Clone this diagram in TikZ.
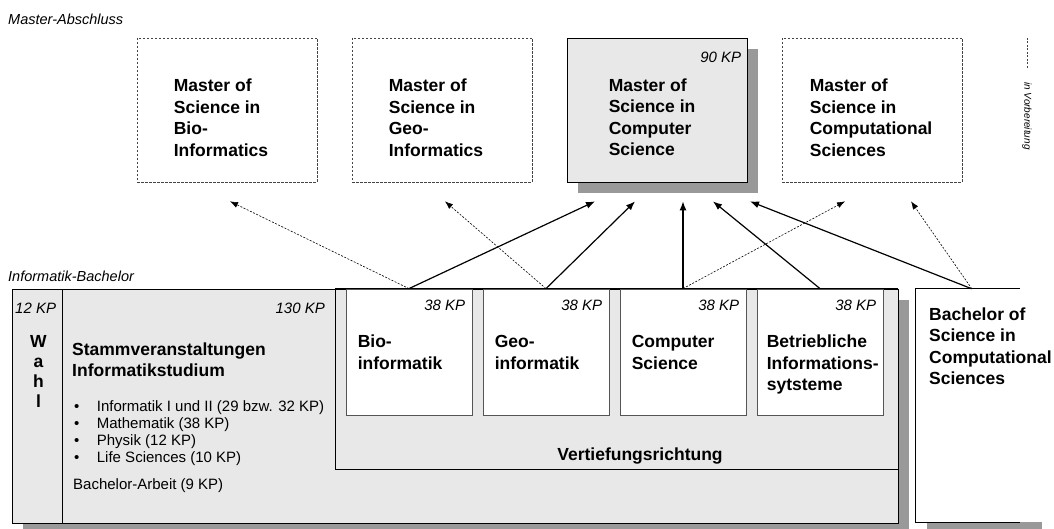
\documentclass[tikz,border=0pt]{standalone}
\usepackage{fontspec}
\setmainfont{Liberation Sans}
\usetikzlibrary{shapes.geometric, arrows.meta, shadows, positioning}

\definecolor{boxgray}{HTML}{E8E8E8}
\definecolor{shadowgray}{HTML}{999999}
\definecolor{dashgray}{HTML}{444444}
\definecolor{linegray}{HTML}{555555}

\newcommand{\titlefont}{\fontsize{17.5}{21.5}\selectfont\bfseries}
\newcommand{\wahlfont}{\fontsize{17.5}{19.8}\selectfont\bfseries}
\newcommand{\kpfont}{\fontsize{15}{17}\selectfont\itshape}
\newcommand{\listfont}{\fontsize{15}{17}\selectfont}
\newcommand{\headfont}{\fontsize{14.5}{17}\selectfont\itshape}
\newcommand{\legendfont}{\fontsize{10}{12}\selectfont\itshape}

\tikzstyle{master} = [
    rectangle,
    minimum width=180pt,
    minimum height=144pt,
    inner sep=0pt,
    fill=white,
    draw=dashgray,
    line width=0.7pt,
    dash pattern=on 2.5pt off 1.5pt
]
\tikzstyle{mastercs} = [
    rectangle,
    minimum width=180pt,
    minimum height=144pt,
    inner sep=0pt,
    fill=boxgray,
    draw=black,
    line width=0.8pt,
    drop shadow={shadow xshift=11pt, shadow yshift=-11pt, fill=shadowgray, opacity=1}
]
\tikzstyle{area} = [
    rectangle,
    inner sep=0pt,
    fill=boxgray,
    draw=black,
    line width=0.8pt
]
\tikzstyle{vbox} = [
    rectangle,
    minimum width=126pt,
    minimum height=126pt,
    inner sep=0pt,
    fill=white,
    draw=linegray,
    line width=0.8pt
]
\tikzstyle{mtitle} = [font=\titlefont, align=left, anchor=north west, inner sep=0pt]
\tikzstyle{kp} = [font=\kpfont, inner sep=0pt]
\tikzstyle{arrow} = [line width=1.2pt, -{Latex[length=9pt, width=7pt]}]
\tikzstyle{dasharrow} = [line width=0.6pt, dash pattern=on 2pt off 1.5pt, -{Latex[length=8pt, width=6pt]}]

\begin{document}
\begin{tikzpicture}[x=1pt, y=-1pt, node distance=215pt]

\useasboundingbox (0,0) rectangle (1054,529);

% Master
\node (mhead) [font=\headfont, anchor=base west, inner sep=0pt] at (8,25) {Master-Abschluss};

\node (mbio) [master] at (227,110) {};
\node (mgeo) [master, right of=mbio] {};
\node (mcs) [mastercs, right of=mgeo] {};
\node (mcomp) [master, right of=mcs] {};

\node (mbiotext) [mtitle] at ([xshift=37pt,yshift=-41pt]mbio.north west)
{Master of\\
Science in\\
Bio-\\
Informatics};
\node (mgeotext) [mtitle] at ([xshift=37pt,yshift=-41pt]mgeo.north west)
{Master of\\
Science in\\
Geo-\\
Informatics};
\node (mcstext) [mtitle] at ([xshift=42pt,yshift=-41pt]mcs.north west)
{Master of\\
Science in\\
Computer\\
Science};
\node (mcomptext) [mtitle] at ([xshift=28pt,yshift=-41pt]mcomp.north west)
{Master of\\
Science in\\
Computational\\
Sciences};
\node (mcskp) [kp, anchor=base east] at ([xshift=-6pt,yshift=-25pt]mcs.north east) {90 KP};

% Legende
\coordinate (legtop) at (1027,38);
\coordinate (legbot) at (1027,68);
\draw [dashgray, line width=0.6pt, dash pattern=on 2pt off 1.5pt] (legtop) -- (legbot);
\node (legtext) [font=\legendfont, rotate=-90, anchor=west, inner sep=0pt] at (1027,82) {in Vorbereitung};

% Bachelor
\node (bhead) [font=\headfont, anchor=base west, inner sep=0pt] at (8,281) {Informatik-Bachelor};

\node (bach) [area, minimum width=886pt, minimum height=234pt,
    drop shadow={shadow xshift=11pt, shadow yshift=-11pt, fill=shadowgray, opacity=1}] at (455,406) {};
\node (wahl) [area, minimum width=50pt, minimum height=234pt] at (37,406) {};
\node (vert) [area, minimum width=563pt, minimum height=180pt] at (616.5,379) {};

\node (wahltext) [font=\wahlfont, align=center, anchor=north, inner sep=0pt] at (38.5,335.5)
{W\\a\\h\\l};
\node (wahlkp) [kp, anchor=base west] at (15,313) {12 KP};

\node (stammkp) [kp, anchor=base east] at (325,313) {130 KP};
\node (stamm) [mtitle] at (72,342.4)
{Stammveranstaltungen\\
Informatikstudium};
\node (stammlist) [font=\listfont, align=left, anchor=north west, inner sep=0pt] at (74,400)
{\makebox[22.7pt][l]{\textbullet}Informatik I und II (29 bzw. 32 KP)\\
\makebox[22.7pt][l]{\textbullet}Mathematik (38 KP)\\
\makebox[22.7pt][l]{\textbullet}Physik (12 KP)\\
\makebox[22.7pt][l]{\textbullet}Life Sciences (10 KP)};
\node (arbeit) [font=\listfont, anchor=north west, inner sep=0pt] at (73,478) {Bachelor-Arbeit (9 KP)};

% Vertiefungsrichtung
\node (vbio) [vbox] at (409,352) {};
\node (vgeo) [vbox, right of=vbio, node distance=137pt] {};
\node (vcs) [vbox, right of=vgeo, node distance=137pt] {};
\node (vbis) [vbox, right of=vcs, node distance=137pt] {};
\draw [line width=0.8pt] (vert.north west) -- (vert.north east);

\node (vbiotext) [mtitle] at ([xshift=12pt,yshift=-46.5pt]vbio.north west)
{Bio-\\
informatik};
\node (vgeotext) [mtitle] at ([xshift=12pt,yshift=-46.5pt]vgeo.north west)
{Geo-\\
informatik};
\node (vcstext) [mtitle] at ([xshift=12pt,yshift=-46.5pt]vcs.north west)
{Computer\\
Science};
\node (vbistext) [mtitle] at ([xshift=10pt,yshift=-46.5pt]vbis.north west)
{Betriebliche\\
Informations-\\
sytsteme};

\node (vbiokp) [kp, anchor=base east] at ([xshift=-7pt,yshift=-22pt]vbio.north east) {38 KP};
\node (vgeokp) [kp, anchor=base east] at ([xshift=-7pt,yshift=-22pt]vgeo.north east) {38 KP};
\node (vcskp) [kp, anchor=base east] at ([xshift=-7pt,yshift=-22pt]vcs.north east) {38 KP};
\node (vbiskp) [kp, anchor=base east] at ([xshift=-7pt,yshift=-22pt]vbis.north east) {38 KP};

\node (verttext) [font=\titlefont, anchor=base, inner sep=0pt] at (640,460) {Vertiefungsrichtung};

% BSc Computational Sciences
\fill [shadowgray] (927,522) rectangle (1042,535);
\node (bsc) [rectangle, fill=white, inner sep=0pt, minimum width=104pt, minimum height=233pt] at (968,405.5) {};
\draw [line width=0.8pt] (bsc.north east) -- (bsc.north west) -- (bsc.south west) -- (bsc.south east);
\node (bsctext) [mtitle] at (929,307.5)
{Bachelor of\\
Science in\\
Computational\\
Sciences};

% Arrows
\draw [dasharrow] (vbio.north) -- ([xshift=3pt,yshift=-19pt]mbio.south);
\draw [arrow] (vbio.north) -- ([xshift=-62pt,yshift=-19pt]mcs.south);
\draw [dasharrow] (vgeo.north) -- ([xshift=3pt,yshift=-19pt]mgeo.south);
\draw [arrow] (vgeo.north) -- ([xshift=-22pt,yshift=-19pt]mcs.south);
\draw [arrow] (vcs.north) -- ([xshift=26pt,yshift=-19pt]mcs.south);
\draw [dasharrow] (vcs.north) -- ([xshift=-27pt,yshift=-19pt]mcomp.south);
\draw [arrow] (vbis.north) -- ([xshift=56pt,yshift=-19pt]mcs.south);
\draw [arrow] ([xshift=56pt]bsc.north west) -- ([xshift=93pt,yshift=-19pt]mcs.south);
\draw [dasharrow] ([xshift=56pt]bsc.north west) -- ([xshift=39pt,yshift=-19pt]mcomp.south);

\end{tikzpicture}
\end{document}
